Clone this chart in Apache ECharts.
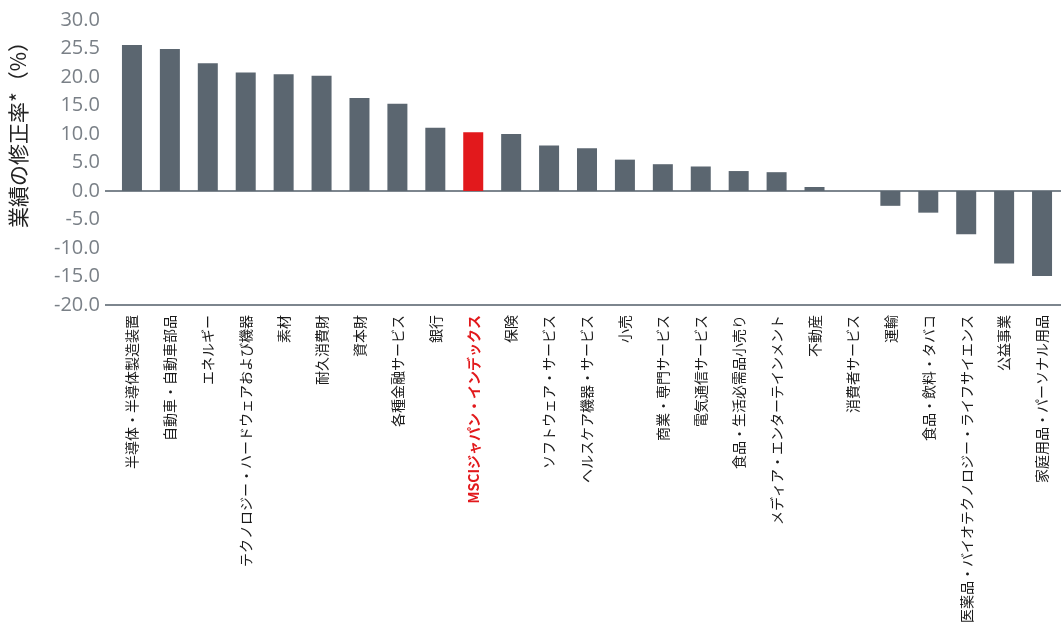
<!DOCTYPE html>
<html>
<head>
<meta charset="utf-8">
<script src="https://cdn.jsdelivr.net/npm/echarts@6/dist/echarts.min.js"></script>
<style>
  html, body { margin: 0; padding: 0; background: #ffffff; }
  #chart { width: 1061px; height: 627px; }
</style>
</head>
<body>
<div id="chart"></div>
<script>
const categories = [
  '半導体・半導体製造装置', '自動車・自動車部品', 'エネルギー', 'テクノロジー・ハードウェアおよび機器',
  '素材', '耐久消費財', '資本財', '各種金融サービス', '銀行', 'MSCIジャパン・インデックス',
  '保険', 'ソフトウェア・サービス', 'ヘルスケア機器・サービス', '小売', '商業・専門サービス',
  '電気通信サービス', '食品・生活必需品小売り', 'メディア・エンターテインメント', '不動産',
  '消費者サービス', '運輸', '食品・飲料・タバコ', '医薬品・バイオテクノロジー・ライフサイエンス',
  '公益事業', '家庭用品・パーソナル用品'
];
const values = [
  25.6, 24.9, 22.4, 20.8, 20.5, 20.2, 16.3, 15.3, 11.1, 10.3,
  10.0, 8.0, 7.5, 5.5, 4.7, 4.3, 3.5, 3.3, 0.7, 0,
  -2.6, -3.8, -7.6, -12.7, -14.9
];
const highlightCategory = 'MSCIジャパン・インデックス';
const yTickValues = [-20, -15, -10, -5, 0, 5, 10, 15, 20, 25, 30];
const yTickLabels = ['-20.0', '-15.0', '-10.0', '-5.0', '0.0', '5.0', '10.0', '15.0', '20.0', '25.5', '30.0'];
const yAxisTitle = '業績の修正率*（%）';

const BAR = '#5b6670';
const RED = '#e2191c';
const AXIS = '#7d868e';

const chart = echarts.init(document.getElementById('chart'), null, { renderer: 'canvas' });

const seriesData = values.map((v, i) => ({
  value: v,
  itemStyle: { color: categories[i] === highlightCategory ? RED : BAR }
}));

chart.setOption({
  animation: false,
  backgroundColor: '#ffffff',
  grid: { left: 105, right: 0, top: 20, bottom: 322, containLabel: false },
  xAxis: [
    {
      type: 'category',
      data: categories,
      position: 'bottom',
      axisLine: { onZero: false, lineStyle: { color: AXIS, width: 2 } },
      axisTick: { show: false },
      axisLabel: {
        rotate: 90,
        margin: 10,
        interval: 0,
        fontSize: 14,
        fontFamily: 'Noto Sans CJK JP',
        color: '#1a1a1a',
        formatter: (v) => v === highlightCategory ? '{hl|' + v + '}' : v,
        rich: {
          hl: { color: RED, fontWeight: 'bold', fontSize: 14, fontFamily: 'Noto Sans CJK JP' }
        }
      }
    },
    {
      type: 'category',
      data: categories,
      position: 'bottom',
      axisLine: { onZero: true, lineStyle: { color: AXIS, width: 2 } },
      axisTick: { show: false },
      axisLabel: { show: false }
    }
  ],
  yAxis: {
    type: 'value',
    min: -20,
    max: 30,
    interval: 5,
    name: yAxisTitle,
    nameLocation: 'middle',
    nameGap: 84,
    nameRotate: 90,
    nameTextStyle: {
      fontSize: 21,
      fontFamily: 'Noto Sans CJK JP',
      color: '#222222',
      padding: [0, 0, 0, 66]
    },
    splitLine: { show: false },
    axisLine: { show: false },
    axisTick: {
      show: true,
      customValues: [-20, 0],
      length: 8,
      lineStyle: { color: AXIS, width: 2 }
    },
    axisLabel: {
      margin: 13,
      fontSize: 20,
      fontFamily: 'Open Sans',
      color: '#7a8087',
      formatter: (v) => {
        const idx = yTickValues.indexOf(v);
        return idx >= 0 ? yTickLabels[idx] : '';
      }
    }
  },
  series: [
    {
      type: 'bar',
      xAxisIndex: 0,
      data: seriesData,
      barWidth: 20
    }
  ]
});
</script>
</body>
</html>
